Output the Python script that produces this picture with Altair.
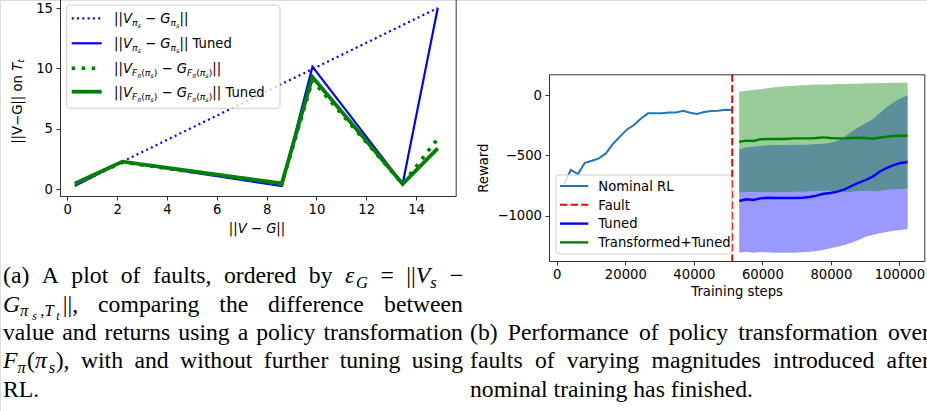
import altair as alt
import pandas as pd

# ---------------- data: panel (a) ----------------
fault_eps = [0.31, 2.21, 8.61, 9.84, 13.46, 14.87]
vg_untuned = [0.31, 2.3, 8.72, 9.95, 13.59, 15.0]
vg_tuned = [0.3, 2.3, 0.28, 10.15, 0.45, 15.0]
vg_transformed = [0.45, 2.25, 0.42, 9.0, 0.45, 4.2]
vg_transformed_tuned = [0.5, 2.3, 0.5, 9.3, 0.45, 3.4]
a_xticks = [0, 2, 4, 6, 8, 10, 12, 14]
a_yticks = [0, 5, 10, 15]

# ---------------- data: panel (b) ----------------
nominal_steps = [2048, 4096, 6144, 8192, 10240, 12288, 14336, 16384, 18432, 20480,
                 22528, 24576, 26624, 28672, 30720, 32768, 34816, 36864, 38912, 40960,
                 43008, 45056, 47104, 49152, 51200]
nominal_reward = [-745, -621, -655, -561, -544, -525, -484, -406, -345, -285,
                  -249, -194, -152, -152, -152, -144, -144, -130, -147, -157,
                  -141, -133, -130, -122, -124]
fault_step = [51200]
tune_steps = [53248, 55296, 57344, 59392, 61440, 63488, 65536, 67584, 69632, 71680,
              73728, 75776, 77824, 79872, 81920, 83968, 86016, 88064, 90112, 92160,
              94208, 96256, 98304, 100352, 102400]
tuned_mean = [-878, -864, -870, -856, -851, -853, -853, -853, -853, -851,
              -845, -834, -818, -812, -801, -781, -754, -727, -704, -677,
              -635, -605, -580, -563, -555]
tuned_upper = [-450, -434, -428, -423, -417, -414, -414, -414, -412, -412,
               -409, -406, -403, -395, -378, -345, -304, -268, -235, -202,
               -152, -102, -61, -28, 0]
tuned_lower = [-1306, -1298, -1306, -1301, -1303, -1306, -1306, -1306, -1306, -1303,
               -1298, -1292, -1284, -1270, -1257, -1243, -1223, -1201, -1174, -1160,
               -1146, -1135, -1124, -1118, -1113]
trans_mean = [-387, -378, -381, -367, -365, -365, -365, -362, -359, -359,
              -359, -356, -351, -356, -359, -359, -356, -354, -356, -362,
              -354, -345, -340, -337, -337]
trans_upper = [27, 36, 41, 47, 55, 64, 69, 75, 77, 80,
               83, 86, 88, 88, 91, 91, 94, 94, 97, 97,
               99, 99, 102, 102, 102]
trans_lower = [-809, -804, -804, -801, -804, -806, -804, -804, -801, -801,
               -798, -795, -793, -793, -798, -804, -801, -795, -793, -798,
               -793, -787, -781, -779, -776]
b_xticks = [0, 20000, 40000, 60000, 80000, 100000]
b_yticks = [0, -500, -1000]

legend_b_labels = ["Nominal RL", "Fault", "Tuned", "Transformed+Tuned"]

# ---------------- layout constants ----------------
W, H = 927, 411
AX_DOM = [-0.293, 15.59]; AX_RNG = [60, 455.7]
AY_DOM = [-0.54, 15.77]; AY_RNG = [196.0, -1.3]
BX_DOM = [-2277, 107270]; BX_RNG = [549, 924.3]
BY_DOM = [-1375, 171.5]; BY_RNG = [261, 74.3]
FS = 13.2          # plot text size (px)
CAP = 23.7         # caption text size (px)
N, I = False, True

DJV = {'|': 0.337, 'V': 0.684, 'G': 0.775, 'F': 0.575, 'T': 0.611, 'π': 0.602,
       's': 0.521, 't': 0.392, '(': 0.390, ')': 0.390, '−': 0.838, ' ': 0.318,
       'u': 0.634, 'n': 0.634, 'e': 0.615, 'd': 0.635, 'o': 0.612}
TMS = {' ': 0.25, '(': 0.333, ')': 0.333, ',': 0.25, '.': 0.25, '=': 0.564, '−': 0.564,
       '|': 0.2, 'A': 0.722, 'R': 0.667, 'L': 0.611, 'P': 0.556, 'G': 0.722,
       'a': 0.444, 'b': 0.5, 'c': 0.444, 'd': 0.5, 'e': 0.444, 'f': 0.333, 'g': 0.5,
       'h': 0.5, 'i': 0.278, 'j': 0.278, 'k': 0.5, 'l': 0.278, 'm': 0.778, 'n': 0.5,
       'o': 0.5, 'p': 0.5, 'q': 0.5, 'r': 0.333, 's': 0.389, 't': 0.278, 'u': 0.5,
       'v': 0.5, 'w': 0.722, 'x': 0.5, 'y': 0.5, 'z': 0.444, 'π': 0.55, 'ε': 0.44}
TMS_I = {'V': 0.611, 'G': 0.722, 'F': 0.611, 'T': 0.556, 's': 0.42, 't': 0.3,
         'π': 0.58, 'ε': 0.46}


def djv_w(c, ital):
    return DJV.get(c, 0.6)


def tms_w(c, ital):
    if ital and c in TMS_I:
        return TMS_I[c]
    return TMS.get(c, 0.5)


def seg_rows(segs, x0, y0, base, scales, shifts, wfun, angle=0, pre=0.0, post=0.0):
    rows, adv = [], 0.0
    for text, lvl, ital in segs:
        size = base * scales[lvl]
        dy = base * shifts[lvl]
        w = sum(wfun(c, ital) for c in text) * size
        if lvl == 2:
            adv += pre
        body = text.strip()
        if body:
            lead = len(text) - len(text.lstrip())
            off = adv + lead * wfun(' ', False) * size
            if angle == 0:
                rows.append(dict(x=x0 + off, y=y0 + dy, text=body, size=size, italic=ital))
            else:
                rows.append(dict(x=x0 + dy, y=y0 - off, text=body, size=size, italic=ital))
        adv += w + (post if lvl == 2 else 0.0)
    return rows, adv


def seg_width(segs, base, scales, wfun, pre=0.0, post=0.0):
    return sum(sum(wfun(c, it) for c in t) * base * scales[l] + (pre + post if l == 2 else 0.0)
               for t, l, it in segs)


MS = {0: 1.0, 1: 0.7, 2: 0.49}
MSH = {0: 0.0, 1: 0.22, 2: 0.37}
TS = {0: 1.0, 1: 0.7, 2: 0.5}
TSH = {0: 0.0, 1: 0.2, 2: 0.33}
CAP_PRE, CAP_POST = 2.6, 3.0


def text_layers(rows, font, angle=0):
    df = pd.DataFrame(rows)
    out = []
    for ital in (False, True):
        sub = df[df['italic'] == ital].drop(columns='italic')
        if len(sub) == 0:
            continue
        out.append(
            alt.Chart(sub).mark_text(
                align='left', baseline='alphabetic', font=font,
                fontStyle='italic' if ital else 'normal', angle=angle, color='black'
            ).encode(
                x=alt.X('x:Q', scale=None), y=alt.Y('y:Q', scale=None),
                text='text:N', size=alt.Size('size:Q', scale=None, legend=None)
            )
        )
    return out


DUMMY = pd.DataFrame({'k': [0]})


def hline(x1, x2, y, color, width, dash=None):
    kw = dict(color=color, strokeWidth=width)
    if dash:
        kw['strokeDash'] = dash
    return alt.Chart(DUMMY).mark_rule(**kw).encode(
        x=alt.value(x1), x2=alt.value(x2), y=alt.value(y))


def legend_box(x1, x2, y1, y2):
    return alt.Chart(DUMMY).mark_rect(
        fill='white', fillOpacity=0.8, stroke='#cccccc', strokeWidth=1, cornerRadius=3
    ).encode(x=alt.value(x1), x2=alt.value(x2), y=alt.value(y1), y2=alt.value(y2))


def dom_axis(orient, offset):
    return alt.Axis(orient=orient, offset=offset, ticks=False, labels=False,
                    domain=True, title=None, grid=False)


layers = []

# ---------------- panel (a) ----------------
dfa = pd.DataFrame({'eps': fault_eps, 'untuned': vg_untuned, 'tuned': vg_tuned,
                    'trans': vg_transformed, 'trans_tuned': vg_transformed_tuned})
ax_scale = alt.Scale(domain=AX_DOM, range=AX_RNG, nice=False, zero=False)
ay_scale = alt.Scale(domain=AY_DOM, range=AY_RNG, nice=False, zero=False)


def a_line(col, color, width, dash=None, xaxis=None, yaxis=None):
    kw = dict(color=color, strokeWidth=width)
    if dash:
        kw['strokeDash'] = dash
    return alt.Chart(dfa).mark_line(**kw).encode(
        x=alt.X('eps:Q', scale=ax_scale, axis=xaxis),
        y=alt.Y(f'{col}:Q', scale=ay_scale, axis=yaxis))


layers.append(a_line('untuned', 'blue', 2.2, [2, 3.3],
                     xaxis=alt.Axis(orient='bottom', offset=196 - H, values=a_xticks, title=None),
                     yaxis=alt.Axis(orient='left', offset=-60, values=a_yticks, title=None)))
layers.append(a_line('tuned', 'blue', 2.2, yaxis=dom_axis('right', 455.7 - W)))
layers.append(a_line('trans', 'green', 3.6, [3.5, 6.5]))
layers.append(a_line('trans_tuned', 'green', 3.8))

# axis titles for (a)
xl = [("||", 0, N), ("V", 0, I), (" − ", 0, N), ("G", 0, I), ("||", 0, N)]
wxl = seg_width(xl, FS, MS, djv_w)
rows, _ = seg_rows(xl, 257 - wxl / 2, 233, FS, MS, MSH, djv_w)
layers += text_layers(rows, 'DejaVu Sans')
yl = [("||V−G|| on ", 0, N), ("T", 0, I), ("t", 1, I)]
wyl = seg_width(yl, FS, MS, djv_w)
rows, _ = seg_rows(yl, 21.5, 101.5 + wyl / 2, FS, MS, MSH, djv_w, angle=270)
layers += text_layers(rows, 'DejaVu Sans', angle=270)

# legend (a)
layers.append(legend_box(66.7, 280, 5, 108.3))
leg_rows_y = [18.3, 43.3, 68.3, 91.7]
layers.append(hline(71.7, 101.7, leg_rows_y[0], 'blue', 2.2, [2, 3.3]))
layers.append(hline(71.7, 101.7, leg_rows_y[1], 'blue', 2.2))
layers.append(hline(71.7, 101.7, leg_rows_y[2], 'green', 3.6, [3.5, 6.5]))
layers.append(hline(71.7, 101.7, leg_rows_y[3], 'green', 3.8))
L1 = [("||", 0, N), ("V", 0, I), ("π", 1, I), ("s", 2, I), (" − ", 0, N),
      ("G", 0, I), ("π", 1, I), ("s", 2, I), ("||", 0, N)]
L3 = [("||", 0, N), ("V", 0, I), ("F", 1, I), ("π", 2, I), ("(", 1, N), ("π", 1, I),
      ("s", 2, I), (")", 1, N), (" − ", 0, N), ("G", 0, I), ("F", 1, I), ("π", 2, I),
      ("(", 1, N), ("π", 1, I), ("s", 2, I), (")", 1, N), ("||", 0, N)]
labels_a = [L1, L1 + [(" Tuned", 0, N)], L3, L3 + [(" Tuned", 0, N)]]
rows = []
for segs, yy in zip(labels_a, leg_rows_y):
    r, _ = seg_rows(segs, 114, yy + 5, FS, MS, MSH, djv_w)
    rows += r
layers += text_layers(rows, 'DejaVu Sans')

# ---------------- panel (b) ----------------
bx_scale = alt.Scale(domain=BX_DOM, range=BX_RNG, nice=False, zero=False)
by_scale = alt.Scale(domain=BY_DOM, range=BY_RNG, nice=False, zero=False)
dfn = pd.DataFrame({'step': nominal_steps, 'reward': nominal_reward})
dft = pd.DataFrame({'step': tune_steps, 'tm': tuned_mean, 'tu': tuned_upper, 'tl': tuned_lower,
                    'gm': trans_mean, 'gu': trans_upper, 'gl': trans_lower})
dff = pd.DataFrame({'step': fault_step})

layers.append(alt.Chart(dft).mark_area(color='blue', opacity=0.4).encode(
    x=alt.X('step:Q', scale=bx_scale, axis=None),
    y=alt.Y('tl:Q', scale=by_scale, axis=None), y2='tu:Q'))
layers.append(alt.Chart(dft).mark_area(color='green', opacity=0.4).encode(
    x=alt.X('step:Q', scale=bx_scale, axis=None),
    y=alt.Y('gl:Q', scale=by_scale, axis=None), y2='gu:Q'))
layers.append(alt.Chart(dfn).mark_line(color='#1f77b4', strokeWidth=2).encode(
    x=alt.X('step:Q', scale=bx_scale,
            axis=alt.Axis(orient='bottom', offset=261 - H, values=b_xticks, format='d',
                          title='Training steps', titlePadding=5)),
    y=alt.Y('reward:Q', scale=by_scale,
            axis=alt.Axis(orient='left', offset=-549, values=b_yticks, format='d',
                          title='Reward', titlePadding=6))))
layers.append(alt.Chart(dft).mark_line(color='blue', strokeWidth=2.4).encode(
    x=alt.X('step:Q', scale=bx_scale, axis=dom_axis('top', -74.3)),
    y=alt.Y('tm:Q', scale=by_scale, axis=dom_axis('right', 924.3 - W))))
layers.append(alt.Chart(dft).mark_line(color='green', strokeWidth=2.4).encode(
    x=alt.X('step:Q', scale=bx_scale, axis=None),
    y=alt.Y('gm:Q', scale=by_scale, axis=None)))
layers.append(alt.Chart(dff).mark_rule(color='red', strokeWidth=2, strokeDash=[7.4, 3.2]).encode(
    x=alt.X('step:Q', scale=bx_scale, axis=None),
    y=alt.value(BY_RNG[1]), y2=alt.value(BY_RNG[0])))

# legend (b)
layers.append(legend_box(556, 731.7, 175, 254))
leg_b_y = [186, 204.8, 223.6, 242.4]
layers.append(hline(560, 588.3, leg_b_y[0], '#1f77b4', 2))
layers.append(hline(560, 588.3, leg_b_y[1], 'red', 2, [7.4, 3.2]))
layers.append(hline(560, 588.3, leg_b_y[2], 'blue', 2.4))
layers.append(hline(560, 588.3, leg_b_y[3], 'green', 2.4))
rows = []
for lab, yy in zip(legend_b_labels, leg_b_y):
    r, _ = seg_rows([(lab, 0, N)], 598.3, yy + 4.8, FS, MS, MSH, djv_w)
    rows += r
layers += text_layers(rows, 'DejaVu Sans')

# ---------------- captions ----------------
cap_a = [
    ([[("(a)", 0, N)], [("A", 0, N)], [("plot", 0, N)], [("of", 0, N)], [("faults,", 0, N)],
      [("ordered", 0, N)], [("by", 0, N)], [("ε", 0, I), ("G", 1, I)], [("=", 0, N)],
      [("||", 0, N), ("V", 0, I), ("s", 1, I)], [("−", 0, N)]], True),
    ([[("G", 0, I), ("π", 1, I), ("s", 2, I), (",", 1, N), ("T", 1, I), ("t", 2, I), ("||,", 0, N)],
      [("comparing", 0, N)], [("the", 0, N)], [("difference", 0, N)], [("between", 0, N)]], True),
    ([[(w, 0, N)] for w in "value and returns using a policy transformation".split()], True),
    ([[("F", 0, I), ("π", 1, I), ("(", 0, N), ("π", 0, I), ("s", 1, I), ("),", 0, N)]]
     + [[(w, 0, N)] for w in "with and without further tuning using".split()], True),
    ([[("RL.", 0, N)]], False),
]
cap_b = [
    ([[(w, 0, N)] for w in "(b) Performance of policy transformation over".split()], True),
    ([[(w, 0, N)] for w in "faults of varying magnitudes introduced after".split()], True),
    ([[(w, 0, N)] for w in "nominal training has finished.".split()], False),
]
base_a = [283.3, 311.7, 340.0, 368.3, 396.7]
base_b = [340.0, 368.3, 396.7]


def caption_rows(lines, x0, width, baselines):
    rows = []
    for (words, just), yb in zip(lines, baselines):
        widths = [seg_width(w, CAP, TS, tms_w, CAP_PRE, CAP_POST) for w in words]
        if just and len(words) > 1:
            gap = (width - sum(widths)) / (len(words) - 1)
        else:
            gap = 0.25 * CAP
        x = x0
        for w, ww in zip(words, widths):
            r, _ = seg_rows(w, x, yb, CAP, TS, TSH, tms_w, pre=CAP_PRE, post=CAP_POST)
            rows += r
            x += ww + gap
    return rows


rows = caption_rows(cap_a, 3, 460, base_a) + caption_rows(cap_b, 470, 460, base_b)
layers += text_layers(rows, 'Liberation Serif')

chart = alt.layer(*layers).resolve_scale(
    x='independent', y='independent', size='independent'
).properties(
    width=W, height=H, padding=0, autosize=alt.AutoSizeParams(type='none')
).configure_view(stroke=None).configure(background='white').configure_axis(
    grid=False, labelFont='DejaVu Sans', labelFontSize=FS, labelColor='black',
    tickColor='black', tickWidth=0.8, tickSize=4, labelPadding=3.5,
    domainColor='black', domainWidth=0.8, labelFlush=False, labelOverlap=False,
    titleFont='DejaVu Sans', titleFontSize=FS, titleFontWeight='normal', titleColor='black'
)

chart.save("out.html", embed_options={"renderer": "svg", "actions": False})
